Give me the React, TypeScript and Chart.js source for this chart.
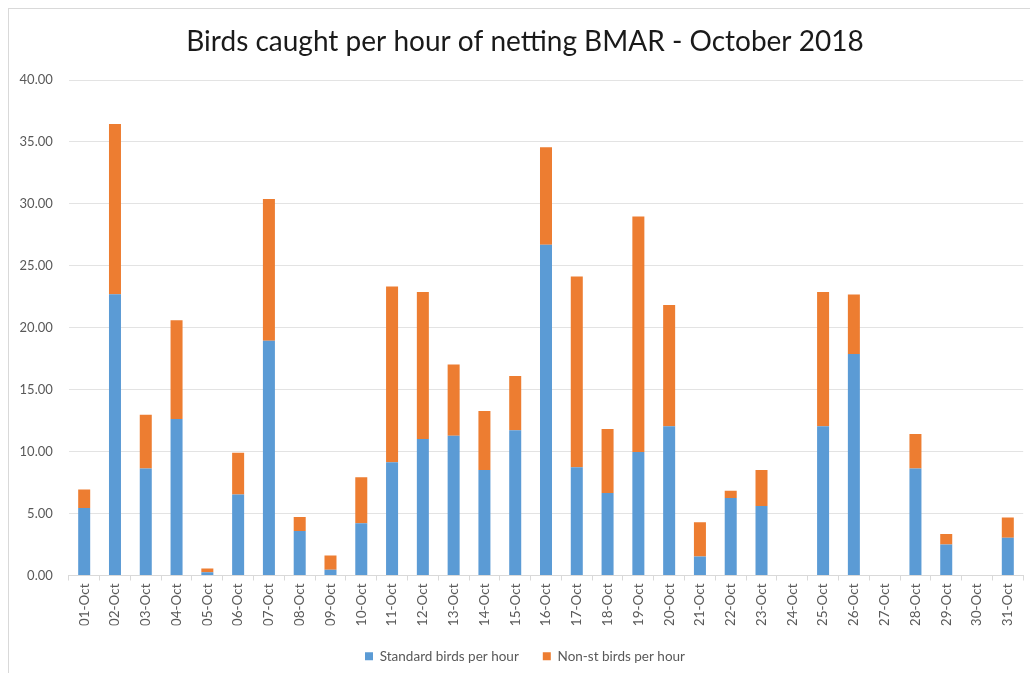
import React, { useEffect, useRef } from "react";
import { Chart, registerables } from "chart.js";

Chart.register(...registerables);

const categories = [
  "01-Oct", "02-Oct", "03-Oct", "04-Oct", "05-Oct", "06-Oct", "07-Oct", "08-Oct",
  "09-Oct", "10-Oct", "11-Oct", "12-Oct", "13-Oct", "14-Oct", "15-Oct", "16-Oct",
  "17-Oct", "18-Oct", "19-Oct", "20-Oct", "21-Oct", "22-Oct", "23-Oct", "24-Oct",
  "25-Oct", "26-Oct", "27-Oct", "28-Oct", "29-Oct", "30-Oct", "31-Oct",
];

const standardBirds = [
  5.45, 22.7, 8.63, 12.63, 0.27, 6.53, 18.95, 3.6, 0.46, 4.22, 9.14, 11.02, 11.29,
  8.52, 11.72, 26.7, 8.74, 6.67, 9.97, 12.04, 1.53, 6.26, 5.62, 0, 12.04, 17.88, 0,
  8.63, 2.5, 0, 3.04,
];

const nonStBirds = [
  1.5, 13.75, 4.35, 7.97, 0.29, 3.37, 11.45, 1.13, 1.15, 3.71, 14.19, 11.86, 5.75,
  4.76, 4.38, 7.87, 15.4, 5.16, 19.01, 9.79, 2.77, 0.59, 2.9, 0, 10.84, 4.81, 0,
  2.8, 0.86, 0, 1.64,
];

const yTicks = [0, 5, 10, 15, 20, 25, 30, 35, 40];

const TITLE = "Birds caught per hour of netting BMAR - October 2018";

export default function App() {
  const ref = useRef<HTMLCanvasElement | null>(null);

  useEffect(() => {
    if (!ref.current) return;
    const chart = new Chart(ref.current, {
      type: "bar",
      data: {
        labels: categories,
        datasets: [
          {
            label: "Standard birds per hour",
            data: standardBirds,
            backgroundColor: "#5b9bd5",
            borderWidth: 0,
            categoryPercentage: 1,
            barPercentage: 0.39,
          },
          {
            label: "Non-st birds per hour",
            data: nonStBirds,
            backgroundColor: "#ed7d31",
            borderWidth: 0,
            categoryPercentage: 1,
            barPercentage: 0.39,
          },
        ],
      },
      options: {
        responsive: false,
        animation: false,
        layout: { padding: { left: 0, right: 0, top: 0, bottom: 0 } },
        font: { family: "Lato" },
        plugins: {
          tooltip: { enabled: false },
          title: {
            display: true,
            text: TITLE,
            color: "#1a1a1a",
            font: { family: "Lato", size: 28, weight: "normal", lineHeight: 1.2 },
            padding: { top: 15.7, bottom: 21.7 },
          },
          legend: {
            position: "bottom",
            labels: {
              boxWidth: 8,
              boxHeight: 8,
              padding: 24,
              color: "#595959",
              font: { family: "Lato", size: 13.5 },
            },
          },
        },
        scales: {
          x: {
            stacked: true,
            grid: {
              drawOnChartArea: false,
              drawTicks: true,
              tickLength: 5,
              color: "#d9d9d9",
              offset: true,
            },
            border: { color: "#d9d9d9" },
            ticks: {
              autoSkip: false,
              maxRotation: 90,
              minRotation: 90,
              padding: 3,
              color: "#595959",
              font: { family: "Lato", size: 13.5 },
            },
            afterFit: (s: any) => {
              s.height = 50;
            },
          },
          y: {
            stacked: true,
            min: 0,
            max: 40,
            afterBuildTicks: (s: any) => {
              s.ticks = yTicks.map((v) => ({ value: v }));
            },
            grid: { color: "#e3e3e3", drawTicks: false },
            border: { display: false },
            ticks: {
              padding: 16,
              color: "#595959",
              font: { family: "Lato", size: 13 },
              callback: (v: any) => Number(v).toFixed(2),
            },
            afterFit: (s: any) => {
              s.width = 59.8;
            },
          },
          yRight: {
            type: "linear",
            position: "right",
            display: true,
            grid: { display: false },
            border: { display: false },
            ticks: { display: false },
            afterFit: (s: any) => {
              s.width = 17.8;
            },
          },
        },
      },
    });
    return () => chart.destroy();
  }, []);

  return (
    <div
      style={{
        position: "fixed",
        left: 8,
        top: 8,
        width: 1022,
        height: 665,
        overflow: "hidden",
        borderTop: "1px solid #d9d9d9",
        borderLeft: "1px solid #d9d9d9",
        boxSizing: "border-box",
        background: "#fff",
      }}
    >
      <canvas ref={ref} width={1032} height={664} style={{ display: "block", width: 1032, height: 664 }} />
    </div>
  );
}
